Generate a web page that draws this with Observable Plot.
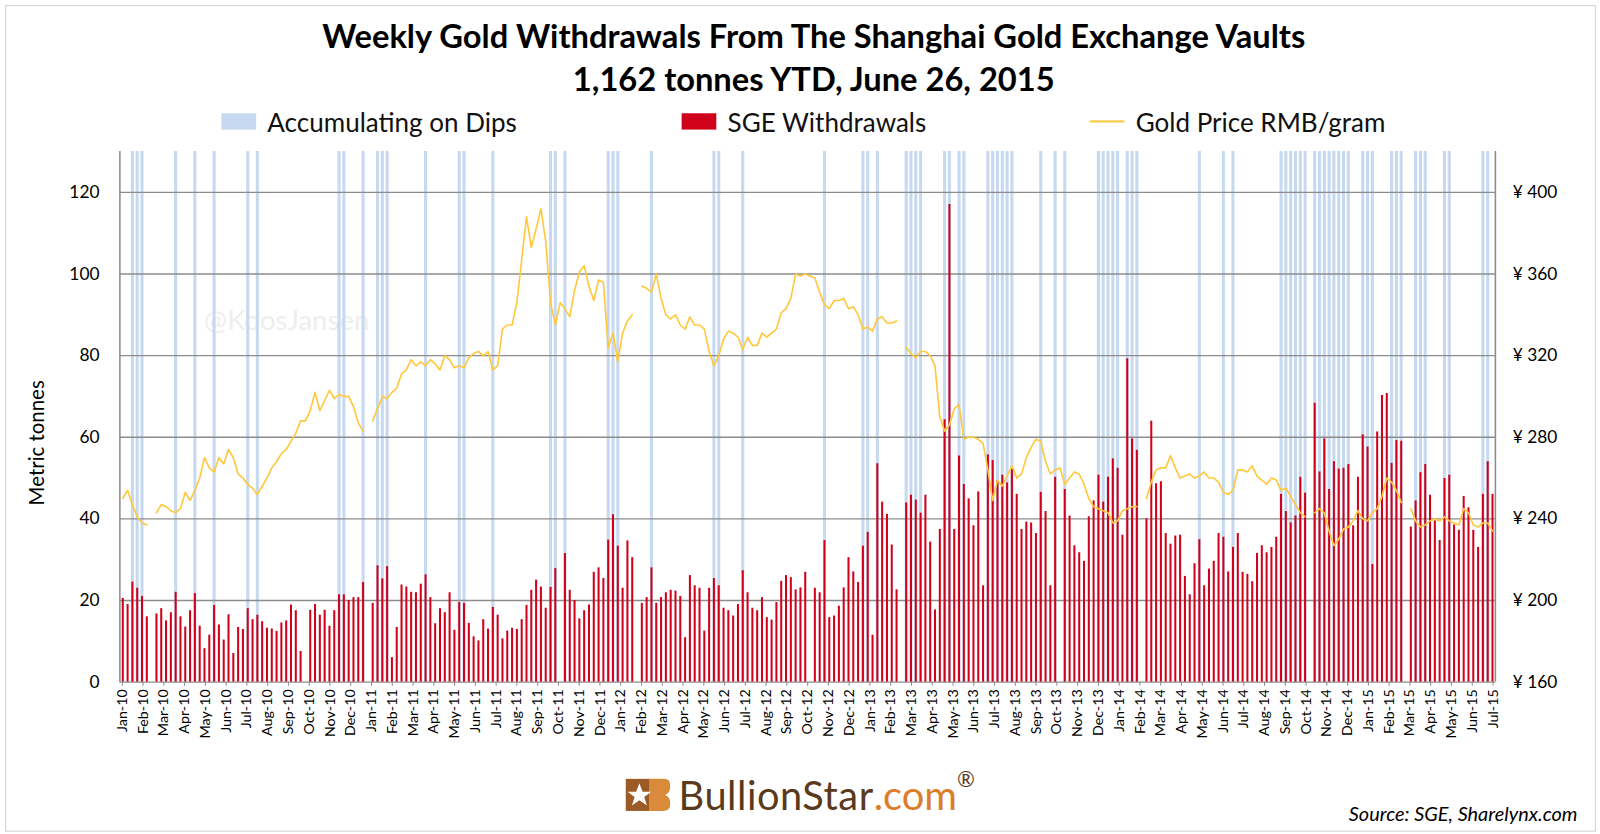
<!DOCTYPE html>
<html><head><meta charset="utf-8">
<script src="https://cdn.jsdelivr.net/npm/d3@7"></script>
<script src="https://cdn.jsdelivr.net/npm/@observablehq/plot@0.6"></script>
<style>
html,body{margin:0;background:#fff;font-family:Lato,"Open Sans",sans-serif;overflow:hidden;width:1600px;height:834px;}
#wrap{position:absolute;left:0;top:0;width:1568px;height:817px;transform:scale(1.0204);transform-origin:0 0;}
.abs{position:absolute;}
#title{left:0;width:1595px;top:14px;text-align:center;font-weight:bold;font-size:32px;line-height:42px;color:#000;}
.leg{top:104px;font-size:25.5px;color:#111;display:flex;align-items:center;}
.sw{display:inline-block;width:34px;height:16px;margin-right:11px;}
</style></head><body>
<div id="wrap">
<div class="abs" style="left:5px;top:5px;width:1557px;height:808px;border:1px solid #d0d0d0;"></div>
<div id="title" class="abs">Weekly Gold Withdrawals From The Shanghai Gold Exchange Vaults<br>1,162 tonnes YTD, June 26, 2015</div>
<div class="abs leg" style="left:217px;"><span class="sw" style="background:#c6d9f1"></span>Accumulating on Dips</div>
<div class="abs leg" style="left:668px;"><span class="sw" style="background:#d0021b"></span>SGE Withdrawals</div>
<div class="abs leg" style="left:1068px;"><span class="sw" style="height:2px;background:#ffc83d"></span>Gold Price RMB/gram</div>
<div class="abs" style="left:200px;top:296px;font-size:27px;color:#eeeeee;">@KoosJansen</div>
<div id="chart" class="abs" style="left:0;top:140px;"></div>
<div class="abs" style="left:-40px;top:422px;width:150px;text-align:center;transform:rotate(-90deg);font-size:20px;color:#000;">Metric tonnes</div>
<div class="abs" style="left:613px;top:756px;display:flex;align-items:center;">
<svg width="44" height="36" viewBox="0 0 42 34"><rect x="0" y="2" width="24" height="30" fill="#9b5a26"/><path d="M22 2 H36 Q42 2 42 9 Q42 15 37 17 Q42 19 42 25 Q42 32 35 32 H22 Z" fill="#d98a3a"/><polygon points="13,6 16,14 24,14 17.5,19 20,27 13,22 6,27 8.5,19 2,14 10,14" fill="#fff"/></svg>
<span style="font-size:39px;color:#5b3a1c;margin-left:8px;letter-spacing:0.5px;">BullionStar</span><span style="font-size:39px;color:#dd7d2c;">.com</span><span style="font-size:21px;color:#5b3a1c;position:relative;top:-17px;">®</span>
</div>
<div class="abs" style="right:22px;top:786px;font-size:19.5px;font-style:italic;color:#000;">Source: SGE, Sharelynx.com</div>
</div>
<script>
const withdrawals = [
20.5,19,24.5,23,21,16,null,16.7,18,15,17,22,16,13.5,17.5,21.7,13.7,8.2,11.5,18.8,14,10.3,16.5,7,13.4,12.9,18,15.3,16.4,14.8,13.2,13,12.4,14.5,15,18.9,17.5,7.5,null,17.6,19,16.4,17.6,13.7,17.5,21.4,21.4,20,20.7,20.7,24.4,null,19.3,28.5,25.3,28.3,6,13.4,23.8,23.3,22,21.9,24,26.3,20.7,14.3,18,17,21.9,12.7,19.5,
19.3,14.4,11.1,10.1,15.3,13,18.3,16.4,10.6,12.5,13.2,12.9,15.3,18.8,22.5,25,23.3,18.1,23.2,27.8,null,31.5,22.5,20,15.5,17.5,18.9,26.9,28,25.4,34.8,41,33.3,23,34.6,30.5,null,19.3,20.7,28,19.3,20.7,21.9,22.5,22.3,21,10.9,26.1,23.6,23,12.5,23,25.4,23.6,18.1,17.5,16.2,19,27.3,21.9,18.1,17.5,20.7,15.8,15.2,19.5,24.7,26.1,25.6,22.6,23.1,
26.9,null,23,21.9,34.7,15.8,16.2,18.6,23.1,30.5,27,24.4,33.3,36.7,11.5,53.5,44.1,41.1,33.6,22.6,null,43.9,45.8,44.6,41.4,45.8,34.3,17.7,37.4,64.3,117,37.4,55.4,48.4,44.9,38.3,46.6,23.6,55.7,54.3,49.4,50.7,48.8,52.2,46,37.4,39.2,39,36.4,46.5,41.8,23.6,50.2,null,47.2,40.7,33.4,31.7,29.6,40.5,44.4,50.7,44.1,50.2,54.7,52.4,36,79.2,59.6,56.8,
null,40,63.9,48.6,49.1,36.4,33.8,35.8,36,25.9,21.4,29,34.9,23.6,27.7,29.6,36.4,35.5,27,33,36.4,26.9,26.4,24.6,31.5,33.4,31.7,33,35.5,46,41.8,39,40.7,50.2,46.3,null,68.3,51.5,59.6,47.2,54,52.2,52.4,53.3,38.3,50.2,60.6,57.6,28.8,61.3,70.2,70.7,53.6,59.2,59,null,38,44.4,51.3,53.3,45.8,39.5,34.7,49.9,50.7,38.5,37.2,45.5,42.7,37.2,33,
46,54,46];
const goldPrice = [
250,254,247,241,238,237,null,243,247,246,244,243,245,253,249,254,260,270,265,263,270,267,274,270,262,260,257,255,252,256,260,265,268,272,274,278,282,288,288,293,302,293,298,303,299,301,300,300,295,287,283,null,288,294,300,299,302,304,311,313,318,315,317,315,318,316,313,320,318,314,
315,314,319,321,322,320,322,313,315,333,335,335,346,367,388,373,382,392,376,346,335,346,343,339,352,361,364,354,347,357,356,324,331,317,331,337,340,null,354,353,351,360,348,340,338,340,335,333,339,335,335,333,322,315,320,328,332,331,329,323,329,325,325,331,329,331,333,341,343,348,360,359,
360,359,358,351,345,343,347,347,348,343,344,340,333,334,332,338,339,336,336,337,null,324,321,319,322,322,320,315,290,283,286,294,296,279,280,280,279,277,264,249,259,256,261,266,260,262,270,275,279,278,268,262,264,265,257,260,263,262,257,250,246,245,244,243,238,239,244,245,246,246,
null,250,258,264,265,265,271,265,260,261,262,260,261,263,260,260,258,253,252,254,264,264,263,266,261,259,257,260,259,254,255,251,247,243,241,null,243,245,243,234,227,230,235,236,239,244,240,239,243,245,251,260,258,254,248,null,245,239,236,237,239,240,239,241,239,238,237,245,243,237,236,
238,238,234];
const dipWeeks = [2,3,4,11,15,19,26,28,45,46,50,53,54,55,63,70,71,77,89,90,92,101,102,103,110,123,124,129,146,154,155,157,163,164,165,166,171,172,174,175,180,181,182,183,184,185,191,194,196,203,204,205,206,207,209,210,211,224,229,231,241,242,243,244,245,246,248,249,250,251,252,253,254,255,258,259,260,264,265,266,269,270,271,275,276,283,284];
const monthNames = ["Jan","Feb","Mar","Apr","May","Jun","Jul","Aug","Sep","Oct","Nov","Dec"];
const monthLabels = [];
for (let yr = 10; yr <= 15; yr++) for (let m = 0; m < 12; m++) { if (yr === 15 && m > 6) break; monthLabels.push(monthNames[m] + "-" + yr); }
const yTicks = [0,20,40,60,80,100,120];

const n = withdrawals.length;
const bars = withdrawals.map((v,i)=>({i,v})).filter(d=>d.v!=null);
const price = goldPrice.map((p,i)=>({i, t: p==null?null:(p-160)/2}));
const dips = dipWeeks.map(i=>({i}));
const x0 = -0.6, x1 = n - 0.4;
const months = monthLabels.map((lab,k)=>({pos: x0 + 0.5 + k*(x1 - x0 - 1)/(monthLabels.length-1), lab}));

const chart = Plot.plot({
  width:1568, height:610,
  marginTop:8, marginLeft:117, marginRight:103, marginBottom:82,
  style:{fontFamily:"Lato, 'Open Sans', sans-serif", fontSize:"17px", color:"#000", background:"transparent", overflow:"hidden"},
  x:{type:"linear", domain:[x0, x1], axis:null, label:null},
  y:{domain:[0,130], axis:null, label:null},
  marks:[
    Plot.ruleX(dips,{x:"i", y1:0, y2:130, stroke:"#c6d9f1", strokeWidth:3}),
    Plot.ruleY(yTicks,{stroke:"#8c8c8c", strokeWidth:1.3}),
    Plot.ruleX([x0, x1],{stroke:"#8c8c8c", strokeWidth:1.5}),
    Plot.ruleX(bars,{x:"i", y1:0, y2:"v", stroke:"#d0021b", strokeWidth:2}),
    Plot.line(price,{x:"i", y:"t", stroke:"#ffc83d", strokeWidth:1.6}),
    Plot.axisY(yTicks,{anchor:"left", tickSize:0, tickPadding:20, fontSize:17, label:null}),
    Plot.axisY(yTicks,{anchor:"right", tickSize:0, tickPadding:17, fontSize:17, textAnchor:"start", label:null, tickFormat:d=>"¥ "+(160+2*d)}),
    Plot.axisX(months.map(d=>d.pos),{anchor:"bottom", tickSize:4, tickRotate:-90, fontSize:14, tickPadding:3, label:null, tickFormat:(d,k)=>months[k].lab, stroke:"#8c8c8c"})
  ]
});
document.getElementById("chart").appendChild(chart);
</script>
</body></html>
